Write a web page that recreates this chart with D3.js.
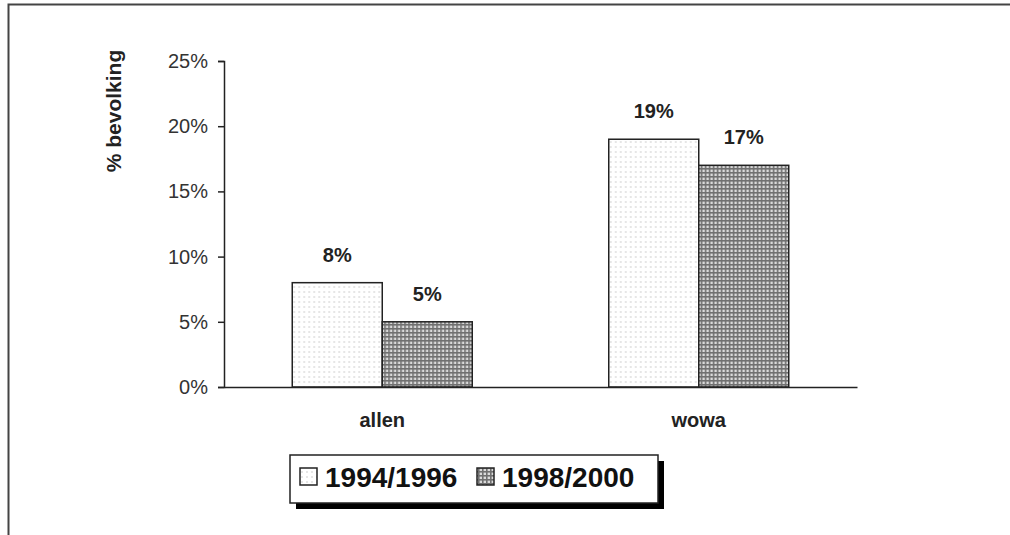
<!DOCTYPE html>
<html>
<head>
<meta charset="utf-8">
<script src="https://cdn.jsdelivr.net/npm/d3@7"></script>
<style>
  body { margin: 0; background: #fff; }
  svg { display: block; font-family: Arial, "Liberation Sans", sans-serif; }
</style>
</head>
<body>
<div id="chart"></div>
<script>
// data
const categories = ['allen', 'wowa'];
const seriesNames = ['1994/1996', '1998/2000'];
const values1994 = [8, 19];
const values1998 = [5, 17];
const yTicks = [0, 5, 10, 15, 20, 25];

const width = 1010, height = 535;
const margin = { top: 61, left: 224, right: 153, bottom: 148 };

const svg = d3.select('#chart').append('svg')
    .attr('width', width)
    .attr('height', height);

// patterns
const defs = svg.append('defs');
const dots = defs.append('pattern')
    .attr('id', 'pat-dots')
    .attr('patternUnits', 'userSpaceOnUse')
    .attr('width', 5).attr('height', 5);
dots.append('rect').attr('width', 5).attr('height', 5).attr('fill', '#fff');
dots.append('rect').attr('x', 1).attr('y', 1).attr('width', 2).attr('height', 2).attr('fill', '#e6e6e6');

const grid = defs.append('pattern')
    .attr('id', 'pat-grid')
    .attr('patternUnits', 'userSpaceOnUse')
    .attr('width', 4).attr('height', 4);
grid.append('rect').attr('width', 4).attr('height', 4).attr('fill', '#dadada');
grid.append('rect').attr('x', 0).attr('y', 0).attr('width', 4).attr('height', 1.6).attr('fill', '#707070');
grid.append('rect').attr('x', 0).attr('y', 0).attr('width', 1.6).attr('height', 4).attr('fill', '#707070');

// page frame (cropped at right / bottom)
svg.append('path')
    .attr('d', `M8.5,${height + 5} V4.5 H${width + 5}`)
    .attr('fill', 'none')
    .attr('stroke', '#444')
    .attr('stroke-width', 2);

const x0 = d3.scaleBand()
    .domain(categories)
    .range([margin.left, width - margin.right]);

const x1 = d3.scaleBand()
    .domain(seriesNames)
    .range([0, 180]);

const y = d3.scaleLinear()
    .domain([0, 25])
    .range([height - margin.bottom, margin.top]);

const fills = ['url(#pat-dots)', 'url(#pat-grid)'];
const seriesValues = [values1994, values1998];

// bars
categories.forEach((cat, ci) => {
    const g = svg.append('g')
        .attr('transform', `translate(${x0(cat) + x0.bandwidth() / 2 - 90}, 0)`);
    seriesNames.forEach((s, si) => {
        const v = seriesValues[si][ci];
        g.append('rect')
            .attr('x', x1(s))
            .attr('y', y(v))
            .attr('width', x1.bandwidth())
            .attr('height', y(0) - y(v))
            .attr('fill', fills[si])
            .attr('stroke', '#222')
            .attr('stroke-width', 1.5);
        g.append('text')
            .attr('x', x1(s) + x1.bandwidth() / 2)
            .attr('y', y(v) - 21)
            .attr('text-anchor', 'middle')
            .attr('font-size', 20)
            .attr('font-weight', 'bold')
            .attr('fill', '#222')
            .text(v + '%');
    });
});

// y axis
const yAxis = svg.append('g')
    .attr('transform', `translate(${margin.left}, 0)`)
    .call(d3.axisLeft(y).tickValues(yTicks).tickSize(6).tickPadding(10).tickFormat(d => d + '%'));
yAxis.select('.domain').attr('stroke', '#222').attr('stroke-width', 1.5);
yAxis.selectAll('.tick line').attr('stroke', '#222').attr('stroke-width', 1.5);
yAxis.selectAll('.tick text')
    .attr('font-size', 20)
    .attr('fill', '#333')
    .attr('font-family', 'Arial, "Liberation Sans", sans-serif');

// x axis
const xAxis = svg.append('g')
    .attr('transform', `translate(0, ${y(0)})`)
    .call(d3.axisBottom(x0).tickSize(0).tickPadding(26));
xAxis.select('.domain').attr('stroke', '#222').attr('stroke-width', 1.5);
xAxis.selectAll('.tick text')
    .attr('font-size', 20)
    .attr('font-weight', 'bold')
    .attr('fill', '#222')
    .attr('font-family', 'Arial, "Liberation Sans", sans-serif');

// y title
svg.append('text')
    .attr('transform', 'translate(121, 111) rotate(-90)')
    .attr('text-anchor', 'middle')
    .attr('font-size', 21)
    .attr('font-weight', 'bold')
    .attr('fill', '#222')
    .text('% bevolking');

// legend
const lg = svg.append('g').attr('transform', 'translate(290, 455)');
lg.append('rect')
    .attr('x', 6).attr('y', 6).attr('width', 368).attr('height', 48)
    .attr('fill', '#000');
lg.append('rect')
    .attr('width', 368).attr('height', 48)
    .attr('fill', '#fff')
    .attr('stroke', '#222').attr('stroke-width', 1.5);

const legendX = [10, 187];
seriesNames.forEach((s, i) => {
    lg.append('rect')
        .attr('x', legendX[i]).attr('y', 13)
        .attr('width', 17).attr('height', 17)
        .attr('fill', fills[i])
        .attr('stroke', '#222').attr('stroke-width', 1.5);
    lg.append('text')
        .attr('x', legendX[i] + 25)
        .attr('y', 32)
        .attr('font-size', 28)
        .attr('font-weight', 'bold')
        .attr('fill', '#111')
        .text(s);
});
</script>
</body>
</html>
